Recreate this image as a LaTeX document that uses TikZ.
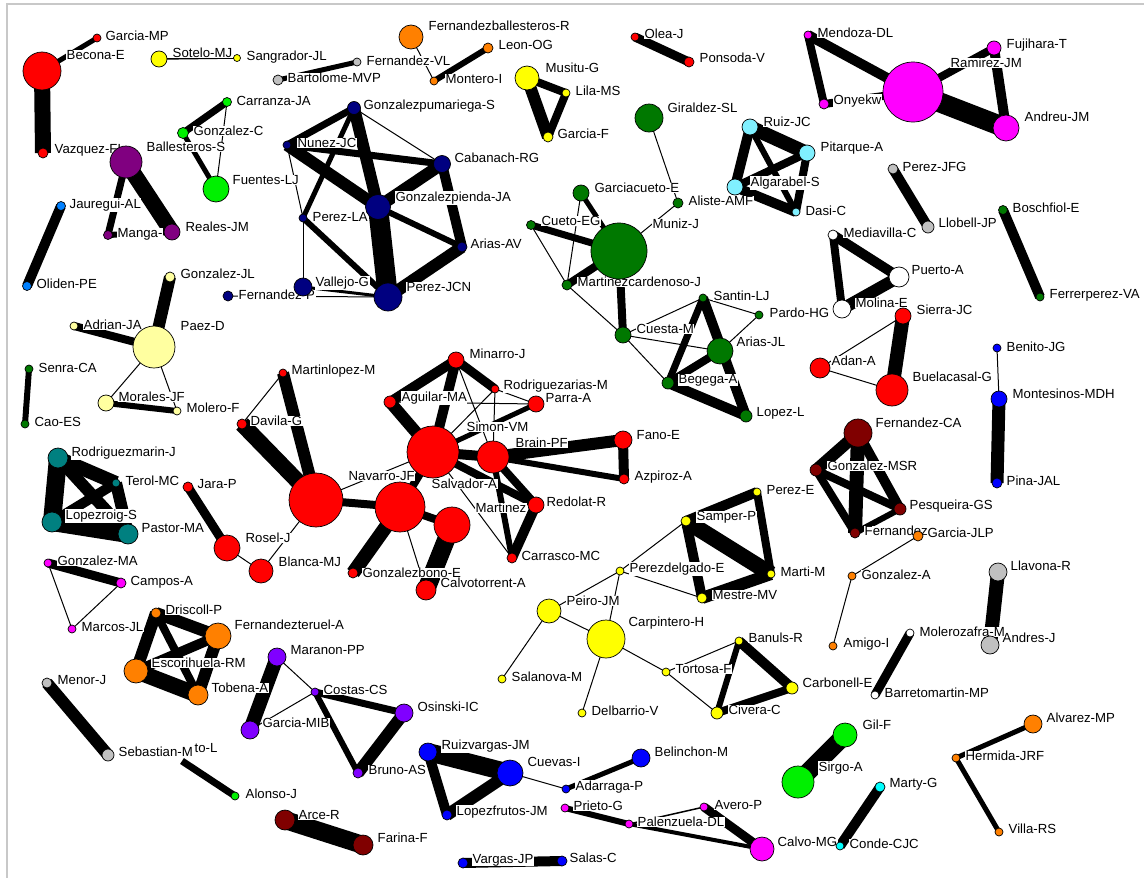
\documentclass[tikz,border=0pt]{standalone}
\usepackage{fontspec}
\setmainfont{Liberation Sans}
\pgfdeclarelayer{bg}
\pgfdeclarelayer{edges}
\pgfdeclarelayer{labels}
\pgfsetlayers{bg,edges,labels,main}
\definecolor{cred}{RGB}{255,0,0}
\definecolor{cnavy}{RGB}{0,0,128}
\definecolor{cblue}{RGB}{0,0,255}
\definecolor{cblue2}{RGB}{0,128,255}
\definecolor{cdgreen}{RGB}{0,120,0}
\definecolor{clime}{RGB}{0,240,0}
\definecolor{cyel}{RGB}{255,255,0}
\definecolor{cpale}{RGB}{255,255,160}
\definecolor{cmag}{RGB}{255,0,255}
\definecolor{cpurp}{RGB}{128,0,128}
\definecolor{cviol}{RGB}{128,0,255}
\definecolor{corange}{RGB}{255,128,0}
\definecolor{clcyan}{RGB}{128,240,255}
\definecolor{ccyan}{RGB}{0,255,255}
\definecolor{cgray}{RGB}{192,192,192}
\definecolor{cteal}{RGB}{0,128,128}
\definecolor{cmaroon}{RGB}{128,0,0}
\definecolor{cframe}{RGB}{200,200,200}
\newcommand{\pn}[8]{\node[vx,minimum size=#4pt,fill=#5] (#1) at (#2,#3) {};
  \begin{pgfonlayer}{labels}\node[lb] (#1l) at (#7,#8) {#6};\end{pgfonlayer}}
\newcommand{\edg}[3]{\draw[line width=#1pt] (#2.center) -- (#3.center);}
\begin{document}
\begin{tikzpicture}[x=1pt,y=-1pt,
  vx/.style={circle,draw=black,line width=0.7pt,inner sep=0pt},
  lb/.style={anchor=west,fill=white,inner sep=0.5pt,font=\fontsize{13.2}{15}\selectfont}]
\useasboundingbox (0,0) rectangle (1144,878);
\begin{pgfonlayer}{bg}
\fill[white] (0,0) rectangle (1144,878);
\draw[cframe,line width=1.5pt] (7,878) -- (7,4) -- (1144,4);
\end{pgfonlayer}
% ---------- nodes ----------
\pn{garciamp}{97}{38}{8}{cred}{Garcia-MP}{105}{36}
\pn{becona}{42}{71}{38}{cred}{Becona-E}{66}{55}
\pn{vazquez}{43}{153}{10}{cred}{Vazquez-FL}{54}{150}
\pn{sotelo}{159}{59}{16}{cyel}{Sotelo-MJ}{172}{53}
\pn{sangrador}{237}{58}{7}{cyel}{Sangrador-JL}{246}{57}
\pn{bartolome}{278}{80}{10}{cgray}{Bartolome-MVP}{287}{78}
\pn{fernandezvl}{357}{62}{8}{cgray}{Fernandez-VL}{366}{61}
\pn{fernbal}{411}{37}{24}{corange}{Fernandezballesteros-R}{428}{26}
\pn{leon}{488}{48}{10}{corange}{Leon-OG}{498}{45}
\pn{montero}{434}{81}{8}{corange}{Montero-I}{445}{79}
\pn{carranza}{227}{102}{9}{clime}{Carranza-JA}{236}{101}
\pn{gonzalezc}{183}{133}{11}{clime}{Gonzalez-C}{193}{131}
\pn{fuentes}{216}{189}{26}{clime}{Fuentes-LJ}{232}{180}
\pn{ballesteros}{126}{162}{32}{cpurp}{Ballesteros-S}{146}{147}
\pn{manga}{108}{235}{9}{cpurp}{Manga-}{117}{234}
\pn{reales}{172}{232}{16}{cpurp}{Reales-JM}{185}{227}
\pn{jauregui}{61}{206}{9}{cblue2}{Jauregui-AL}{69}{205}
\pn{oliden}{27}{286}{9}{cblue2}{Oliden-PE}{36}{284}
\pn{gonzalezjl}{170}{277}{10}{cpale}{Gonzalez-JL}{180}{274}
\pn{paez}{154}{347}{42}{cpale}{Paez-D}{180}{326}
\pn{adrian}{74}{326}{8}{cpale}{Adrian-JA}{83}{325}
\pn{morales}{106}{403}{16}{cpale}{Morales-JF}{118}{397}
\pn{molero}{177}{411}{8}{cpale}{Molero-F}{186}{408}
\pn{senra}{29}{369}{8}{cdgreen}{Senra-CA}{38}{368}
\pn{cao}{25}{424}{8}{cdgreen}{Cao-ES}{34}{422}
% navy
\pn{gpumariega}{354}{108}{13}{cnavy}{Gonzalezpumariega-S}{363}{106}
\pn{nunez}{287}{145}{8}{cnavy}{Nunez-JC}{297}{143}
\pn{cabanach}{442}{164}{17}{cnavy}{Cabanach-RG}{454}{158}
\pn{gpienda}{378}{207}{25}{cnavy}{Gonzalezpienda-JA}{395}{198}
\pn{perezla}{303}{218}{8}{cnavy}{Perez-LA}{312}{217}
\pn{ariasav}{462}{247}{10}{cnavy}{Arias-AV}{470}{244}
\pn{vallejo}{303}{287}{18}{cnavy}{Vallejo-G}{315}{283}
\pn{perezjcn}{388}{297}{28}{cnavy}{Perez-JCN}{406}{287}
\pn{fernandezp}{228}{296}{10}{cnavy}{Fernandez-P}{238}{295}
% musitu
\pn{musitu}{527}{78}{24}{cyel}{Musitu-G}{545}{68}
\pn{lila}{566}{93}{8}{cyel}{Lila-MS}{575}{91}
\pn{garciaf}{548}{137}{10}{cyel}{Garcia-F}{557}{134}
\pn{olea}{635}{37}{8}{cred}{Olea-J}{644}{34}
\pn{ponsoda}{689}{62}{10}{cred}{Ponsoda-V}{699}{58}
% magenta top
\pn{mendoza}{808}{35}{8}{cmag}{Mendoza-DL}{817}{33}
\pn{onyekwe}{824}{104}{10}{cmag}{Onyekw}{833}{101}
\pn{ramirez}{913}{92}{60}{cmag}{Ramirez-JM}{950}{63}
\pn{fujihara}{994}{48}{14}{cmag}{Fujihara-T}{1006}{45}
\pn{andreu}{1006}{128}{26}{cmag}{Andreu-JM}{1024}{117}
% green
\pn{giraldez}{649}{118}{28}{cdgreen}{Giraldez-SL}{667}{108}
\pn{garciacueto}{581}{193}{16}{cdgreen}{Garciacueto-E}{594}{188}
\pn{aliste}{678}{203}{10}{cdgreen}{Aliste-AMF}{688}{201}
\pn{muniz}{619}{251}{56}{cdgreen}{Muniz-J}{652}{224}
\pn{cuetoeg}{531}{225}{9}{cdgreen}{Cueto-EG}{541}{221}
\pn{martinezc}{567}{285}{10}{cdgreen}{Martinezcardenoso-J}{577}{282}
\pn{cuesta}{623}{335}{16}{cdgreen}{Cuesta-M}{636}{329}
\pn{santin}{703}{298}{8}{cdgreen}{Santin-LJ}{713}{296}
\pn{pardo}{759}{315}{8}{cdgreen}{Pardo-HG}{769}{313}
\pn{ariasjl}{720}{351}{26}{cdgreen}{Arias-JL}{736}{342}
\pn{begega}{668}{383}{12}{cdgreen}{Begega-A}{678}{380}
\pn{lopezl}{746}{416}{12}{cdgreen}{Lopez-L}{756}{413}
% cyan
\pn{ruizjc}{750}{127}{16}{clcyan}{Ruiz-JC}{763}{122}
\pn{pitarque}{807}{153}{16}{clcyan}{Pitarque-A}{820}{148}
\pn{algarabel}{735}{187}{16}{clcyan}{Algarabel-S}{750}{183}
\pn{dasi}{796}{212}{8}{clcyan}{Dasi-C}{805}{211}
\pn{perezjfg}{893}{169}{10}{cgray}{Perez-JFG}{902}{167}
\pn{llobell}{928}{227}{12}{cgray}{Llobell-JP}{938}{223}
\pn{boschfiol}{1003}{210}{9}{cdgreen}{Boschfiol-E}{1012}{208}
\pn{ferrerperez}{1040}{297}{8}{cdgreen}{Ferrerperez-VA}{1049}{295}
\pn{mediavilla}{833}{235}{10}{white}{Mediavilla-C}{843}{233}
\pn{puerto}{899}{277}{20}{white}{Puerto-A}{911}{270}
\pn{molina}{842}{309}{18}{white}{Molina-E}{855}{303}
\pn{sierra}{903}{316}{16}{cred}{Sierra-JC}{916}{310}
\pn{adan}{820}{368}{20}{cred}{Adan-A}{831}{361}
\pn{buelacasal}{892}{390}{32}{cred}{Buelacasal-G}{912}{377}
\pn{benito}{997}{348}{8}{cblue}{Benito-JG}{1006}{347}
\pn{montesinos}{999}{399}{16}{cblue}{Montesinos-MDH}{1012}{394}
\pn{pina}{997}{483}{10}{cblue}{Pina-JAL}{1006}{481}
% maroon
\pn{fernandezca}{858}{433}{28}{cmaroon}{Fernandez-CA}{875}{423}
\pn{gonzalezmsr}{816}{470}{12}{cmaroon}{Gonzalez-MSR}{827}{466}
\pn{pesqueira}{900}{509}{12}{cmaroon}{Pesqueira-GS}{909}{506}
\pn{fernandezm}{855}{533}{10}{cmaroon}{Fernandez}{864}{531}
\pn{garciajlp}{918}{536}{10}{corange}{Garcia-JLP}{927}{533}
\pn{gonzaleza}{852}{576}{8}{corange}{Gonzalez-A}{861}{575}
\pn{amigo}{833}{646}{8}{corange}{Amigo-I}{843}{644}
\pn{llavona}{998}{572}{18}{cgray}{Llavona-R}{1010}{566}
\pn{andres}{990}{645}{18}{cgray}{Andres-J}{1002}{638}
\pn{molerozafra}{910}{633}{8}{white}{Molerozafra-M}{919}{632}
\pn{barretomartin}{875}{695}{8}{white}{Barretomartin-MP}{884}{693}
\pn{alvarez}{1033}{724}{18}{corange}{Alvarez-MP}{1046}{718}
\pn{hermida}{956}{758}{8}{corange}{Hermida-JRF}{965}{756}
\pn{villa}{999}{832}{8}{corange}{Villa-RS}{1008}{829}
\pn{marty}{880}{787}{10}{ccyan}{Marty-G}{889}{784}
\pn{conde}{840}{846}{8}{ccyan}{Conde-CJC}{849}{844}
\pn{gil}{845}{735}{24}{clime}{Gil-F}{862}{725}
\pn{sirgo}{798}{782}{32}{clime}{Sirgo-A}{818}{768}
% bottom magenta/blue
\pn{calvo}{762}{849}{24}{cmag}{Calvo-MG}{777}{842}
\pn{avero}{704}{807}{8}{cmag}{Avero-P}{714}{805}
\pn{palenzuela}{629}{824}{8}{cmag}{Palenzuela-DL}{637}{822}
\pn{prieto}{565}{808}{8}{cmag}{Prieto-G}{573}{806}
\pn{belinchon}{641}{758}{18}{cblue}{Belinchon-M}{654}{752}
\pn{adarraga}{566}{789}{8}{cblue}{Adarraga-P}{575}{787}
\pn{cuevas}{510}{773}{26}{cblue}{Cuevas-I}{527}{762}
\pn{ruizvargas}{428}{752}{18}{cblue}{Ruizvargas-JM}{441}{746}
\pn{lopezfrutos}{447}{815}{10}{cblue}{Lopezfrutos-JM}{456}{812}
\pn{vargas}{463}{863}{10}{cblue}{Vargas-JP}{472}{860}
\pn{salas}{562}{861}{10}{cblue}{Salas-C}{569}{858}
\pn{arce}{285}{820}{20}{cmaroon}{Arce-R}{298}{815}
\pn{farina}{363}{845}{20}{cmaroon}{Farina-F}{377}{838}
% violet
\pn{maranon}{277}{657}{18}{cviol}{Maranon-PP}{290}{650}
\pn{costas}{315}{692}{8}{cviol}{Costas-CS}{323}{690}
\pn{osinski}{404}{713}{18}{cviol}{Osinski-IC}{417}{707}
\pn{garciamib}{250}{730}{18}{cviol}{Garcia-MIB}{262}{723}
\pn{bruno}{358}{773}{10}{cviol}{Bruno-AS}{368}{770}
\pn{menor}{47}{683}{10}{cgray}{Menor-J}{57}{680}
\pn{sebastian}{108}{755}{12}{cgray}{Sebastian-M}{118}{752}
\coordinate (otol) at (182,761);
\begin{pgfonlayer}{labels}\node[lb] (otoll) at (194,748) {to-L};\end{pgfonlayer}
\pn{alonso}{235}{796}{8}{clime}{Alonso-J}{245}{794}
% orange
\pn{driscoll}{156}{613}{10}{corange}{Driscoll-P}{165}{610}
\pn{fteruel}{218}{636}{26}{corange}{Fernandezteruel-A}{234}{625}
\pn{escorihuela}{136}{671}{24}{corange}{Escorihuela-RM}{151}{663}
\pn{tobena}{198}{695}{20}{corange}{Tobena-A}{211}{688}
\pn{gonzalezma}{48}{563}{8}{cmag}{Gonzalez-MA}{57}{561}
\pn{campos}{121}{583}{10}{cmag}{Campos-A}{130}{582}
\pn{marcos}{72}{629}{8}{cmag}{Marcos-JL}{81}{627}
% teal
\pn{rodriguezmarin}{58}{458}{20}{cteal}{Rodriguezmarin-J}{71}{453}
\pn{terol}{116}{483}{8}{cteal}{Terol-MC}{125}{481}
\pn{lopezroig}{52}{522}{20}{cteal}{Lopezroig-S}{65}{516}
\pn{pastor}{128}{534}{20}{cteal}{Pastor-MA}{141}{528}
% red cluster
\pn{jara}{188}{487}{10}{cred}{Jara-P}{197}{484}
\pn{rosel}{227}{548}{26}{cred}{Rosel-J}{245}{538}
\pn{blanca}{261}{571}{24}{cred}{Blanca-MJ}{278}{562}
\pn{martinlopez}{283}{373}{8}{cred}{Martinlopez-M}{291}{371}
\pn{davila}{242}{424}{10}{cred}{Davila-G}{250}{421}
\pn{navarro}{316}{500}{54}{cred}{Navarro-JF}{348}{476}
\pn{salvador}{400}{507}{50}{cred}{Salvador-A}{431}{484}
\pn{simon}{433}{452}{52}{cred}{Simon-VM}{466}{427}
\pn{brain}{493}{457}{32}{cred}{Brain-PF}{515}{443}
\pn{martinez}{452}{525}{36}{cred}{Martinez}{475}{508}
\pn{minarro}{456}{360}{16}{cred}{Minarro-J}{469}{354}
\pn{aguilar}{390}{402}{12}{cred}{Aguilar-MA}{401}{398}
\pn{rodriguezarias}{495}{389}{8}{cred}{Rodriguezarias-M}{503}{386}
\pn{parra}{536}{404}{16}{cred}{Parra-A}{545}{398}
\pn{redolat}{536}{505}{16}{cred}{Redolat-R}{546}{502}
\pn{carrasco}{512}{558}{10}{cred}{Carrasco-MC}{521}{556}
\pn{gonzalezbono}{353}{573}{10}{cred}{Gonzalezbono-E}{362}{573}
\pn{calvotorrent}{426}{590}{20}{cred}{Calvotorrent-A}{440}{583}
\pn{fano}{623}{440}{18}{cred}{Fano-E}{636}{435}
\pn{azpiroz}{624}{479}{10}{cred}{Azpiroz-A}{634}{477}
% yellow cluster
\pn{pereze}{757}{492}{8}{cyel}{Perez-E}{766}{490}
\pn{samper}{686}{521}{10}{cyel}{Samper-P}{696}{517}
\pn{marti}{771}{574}{8}{cyel}{Marti-M}{780}{572}
\pn{perezdelgado}{620}{571}{8}{cyel}{Perezdelgado-E}{629}{569}
\pn{mestre}{702}{598}{10}{cyel}{Mestre-MV}{712}{595}
\pn{peiro}{549}{611}{24}{cyel}{Peiro-JM}{566}{601}
\pn{carpintero}{606}{639}{38}{cyel}{Carpintero-H}{628}{623}
\pn{salanova}{502}{679}{8}{cyel}{Salanova-M}{511}{677}
\pn{delbarrio}{582}{713}{8}{cyel}{Delbarrio-V}{591}{711}
\pn{tortosa}{666}{672}{8}{cyel}{Tortosa-F}{675}{669}
\pn{banuls}{739}{641}{8}{cyel}{Banuls-R}{748}{638}
\pn{carbonell}{792}{688}{12}{cyel}{Carbonell-E}{802}{683}
\pn{civera}{717}{713}{12}{cyel}{Civera-C}{728}{710}
% ---------- edges ----------
\begin{pgfonlayer}{edges}
\edg{5}{garciamp}{becona}\edg{16}{becona}{vazquez}\edg{1.5}{sotelo}{sangrador}
\edg{5}{bartolome}{fernandezvl}\edg{1}{fernbal}{montero}\edg{6}{leon}{montero}
\edg{7}{carranza}{gonzalezc}\edg{1}{carranza}{fuentes}\edg{5}{gonzalezc}{fuentes}
\edg{7}{ballesteros}{manga}\edg{16}{ballesteros}{reales}\edg{6}{manga}{reales}
\edg{10}{jauregui}{oliden}\edg{12}{gonzalezjl}{paez}\edg{8}{adrian}{paez}
\edg{1}{paez}{morales}\edg{1}{paez}{molero}\edg{6}{morales}{molero}\edg{6}{senra}{cao}
\edg{7}{gpumariega}{nunez}\edg{1}{gpumariega}{cabanach}\edg{12}{gpumariega}{gpienda}
\edg{7}{nunez}{cabanach}\edg{12}{nunez}{gpienda}\edg{1}{nunez}{perezla}
\edg{5}{perezla}{gpumariega}\edg{6}{perezla}{perezjcn}\edg{1}{perezla}{vallejo}
\edg{3}{vallejo}{perezjcn}\edg{1}{fernandezp}{perezjcn}\edg{12}{gpienda}{cabanach}
\edg{6}{gpienda}{ariasav}\edg{20}{gpienda}{perezjcn}\edg{10}{cabanach}{ariasav}
\edg{12}{ariasav}{perezjcn}
\edg{8}{musitu}{lila}\edg{12}{musitu}{garciaf}\edg{8}{lila}{garciaf}\edg{9}{olea}{ponsoda}
\edg{10}{mendoza}{ramirez}\edg{8}{mendoza}{onyekwe}\edg{8}{onyekwe}{ramirez}
\edg{8}{ramirez}{fujihara}\edg{20}{ramirez}{andreu}\edg{10}{fujihara}{andreu}
\edg{1}{giraldez}{aliste}\edg{1}{aliste}{muniz}\edg{7}{cuetoeg}{muniz}
\edg{5}{garciacueto}{muniz}\edg{1}{cuetoeg}{martinezc}\edg{1}{garciacueto}{martinezc}
\edg{8}{martinezc}{muniz}\edg{8}{muniz}{cuesta}\edg{1}{martinezc}{cuesta}
\edg{1}{cuesta}{santin}\edg{1}{cuesta}{ariasjl}\edg{1}{cuesta}{begega}
\edg{1}{santin}{pardo}\edg{1}{ariasjl}{pardo}\edg{7}{santin}{begega}
\edg{10}{santin}{lopezl}\edg{8}{begega}{ariasjl}\edg{10}{begega}{lopezl}
\edg{14}{ruizjc}{pitarque}\edg{10}{ruizjc}{algarabel}\edg{8}{algarabel}{pitarque}
\edg{8}{pitarque}{dasi}\edg{10}{algarabel}{dasi}\edg{6}{ruizjc}{dasi}
\edg{10}{perezjfg}{llobell}\edg{10}{boschfiol}{ferrerperez}
\edg{10}{mediavilla}{puerto}\edg{12}{puerto}{molina}\edg{8}{mediavilla}{molina}
\edg{14}{sierra}{buelacasal}\edg{1}{adan}{sierra}\edg{1}{adan}{buelacasal}
\edg{1}{benito}{montesinos}\edg{13}{montesinos}{pina}
\edg{12}{fernandezca}{gonzalezmsr}\edg{14}{fernandezca}{fernandezm}
\edg{10}{fernandezca}{pesqueira}\edg{8}{gonzalezmsr}{pesqueira}
\edg{6}{pesqueira}{fernandezm}\edg{8}{gonzalezmsr}{fernandezm}
\edg{1}{garciajlp}{gonzaleza}\edg{1}{gonzaleza}{amigo}\edg{14}{llavona}{andres}
\edg{9}{molerozafra}{barretomartin}\edg{5}{alvarez}{hermida}\edg{5}{hermida}{villa}
\edg{10}{marty}{conde}\edg{18}{gil}{sirgo}
\edg{6}{prieto}{palenzuela}\edg{4}{palenzuela}{calvo}\edg{9}{avero}{calvo}
\edg{1.5}{avero}{palenzuela}\edg{5}{adarraga}{belinchon}\edg{1}{cuevas}{adarraga}
\edg{18}{ruizvargas}{cuevas}\edg{10}{ruizvargas}{lopezfrutos}\edg{12}{lopezfrutos}{cuevas}
\edg{10}{vargas}{salas}\edg{18}{arce}{farina}
\edg{14}{maranon}{garciamib}\edg{1}{maranon}{costas}\edg{1}{garciamib}{costas}
\edg{7}{costas}{osinski}\edg{6}{costas}{bruno}\edg{12}{osinski}{bruno}
\edg{12}{menor}{sebastian}\edg{7}{otol}{alonso}
\edg{12}{driscoll}{fteruel}\edg{12}{driscoll}{escorihuela}\edg{10}{escorihuela}{fteruel}
\edg{16}{escorihuela}{tobena}\edg{12}{fteruel}{tobena}\edg{8}{driscoll}{tobena}
\edg{9}{gonzalezma}{campos}\edg{1}{gonzalezma}{marcos}\edg{1}{campos}{marcos}
\edg{18}{rodriguezmarin}{lopezroig}\edg{14}{rodriguezmarin}{terol}
\edg{12}{rodriguezmarin}{pastor}\edg{18}{lopezroig}{pastor}
\edg{10}{lopezroig}{terol}\edg{12}{terol}{pastor}
\edg{9}{jara}{rosel}\edg{1}{rosel}{blanca}\edg{1}{navarro}{blanca}
\edg{12}{martinlopez}{navarro}\edg{16}{davila}{navarro}\edg{1}{davila}{martinlopez}
\edg{8}{navarro}{salvador}\edg{1}{navarro}{simon}\edg{8}{salvador}{simon}
\edg{14}{salvador}{gonzalezbono}\edg{8}{salvador}{martinez}\edg{1}{salvador}{calvotorrent}
\edg{18}{martinez}{calvotorrent}\edg{10}{simon}{minarro}\edg{12}{simon}{aguilar}
\edg{10}{aguilar}{minarro}\edg{9}{minarro}{rodriguezarias}\edg{1}{minarro}{brain}
\edg{1}{rodriguezarias}{brain}\edg{1}{rodriguezarias}{parra}\edg{1}{aguilar}{parra}
\edg{1}{rodriguezarias}{simon}
\edg{5}{parra}{simon}\edg{10}{simon}{brain}\edg{8}{simon}{redolat}\edg{8}{brain}{redolat}
\edg{12}{brain}{fano}\edg{6}{brain}{azpiroz}\edg{10}{fano}{azpiroz}
\edg{10}{redolat}{carrasco}\edg{6}{brain}{carrasco}\edg{1}{simon}{carrasco}
\edg{10}{pereze}{samper}\edg{8}{pereze}{marti}\edg{16}{samper}{marti}
\edg{10}{samper}{mestre}\edg{12}{marti}{mestre}\edg{1}{samper}{perezdelgado}
\edg{1}{perezdelgado}{mestre}\edg{1}{perezdelgado}{peiro}\edg{1}{perezdelgado}{carpintero}
\edg{1}{peiro}{carpintero}\edg{1}{peiro}{salanova}\edg{1}{carpintero}{delbarrio}
\edg{1}{carpintero}{tortosa}\edg{1}{tortosa}{civera}\edg{1}{tortosa}{banuls}
\edg{10}{banuls}{carbonell}\edg{8}{carbonell}{civera}\edg{6}{banuls}{civera}
\end{pgfonlayer}
\end{tikzpicture}
\end{document}
